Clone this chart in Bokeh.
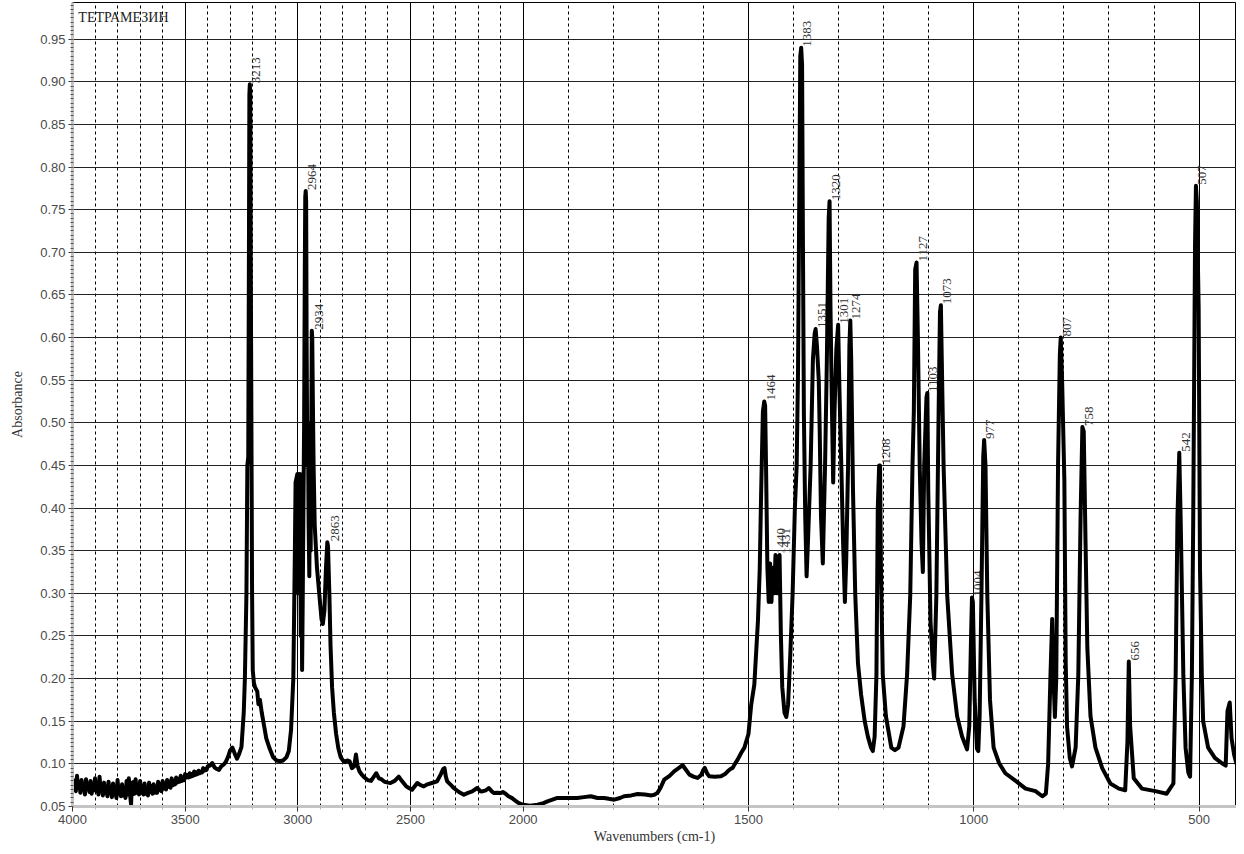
import numpy as np
from bokeh.plotting import figure
from bokeh.models import (ColumnDataSource, Range1d, FixedTicker, SingleIntervalTicker,
                          NumeralTickFormatter, CustomJSTransform, Label)
from bokeh.transform import transform
from bokeh.core.properties import value
from bokeh.embed import file_html
from bokeh.resources import INLINE

# ---------------- data ----------------
# noisy baseline 4000-3400 cm-1
wn_baseline = [
    4000, 3995, 3990, 3985, 3980, 3975, 3970, 3965, 3960, 3955, 3950, 3945, 3940, 3935, 3930,
    3925, 3920, 3915, 3910, 3905, 3900, 3895, 3890, 3885, 3880, 3875, 3870, 3865, 3860, 3855,
    3850, 3845, 3840, 3835, 3830, 3825, 3820, 3815, 3810, 3805, 3800, 3795, 3790, 3785, 3780,
    3775, 3770, 3765, 3760, 3755, 3750, 3745, 3740, 3737, 3733, 3728, 3724, 3720, 3715, 3710,
    3705, 3700, 3695, 3690, 3685, 3680, 3675, 3670, 3665, 3660, 3655, 3650, 3645, 3640, 3635,
    3630, 3625, 3620, 3615, 3610, 3605, 3600, 3595, 3590, 3585, 3580, 3575, 3570, 3565, 3560,
    3555, 3550, 3545, 3540, 3535, 3530, 3525, 3520, 3515, 3510, 3505, 3500, 3495, 3490, 3485,
    3480, 3475, 3470, 3465, 3460, 3455, 3450, 3445, 3440, 3435, 3430, 3425, 3420, 3415, 3410,
    3405, 3400,
]
ab_baseline = [
    .083, .070, .080, .068, .086, .072, .079, .066, .081, .070, .077, .064, .082, .071, .076,
    .067, .080, .065, .074, .069, .083, .068, .075, .064, .085, .069, .073, .063, .078, .066,
    .072, .062, .079, .066, .071, .061, .077, .064, .070, .060, .081, .065, .071, .062, .076,
    .063, .069, .060, .080, .064, .083, .066, .052, .078, .064, .079, .065, .082, .066, .074,
    .064, .080, .066, .073, .064, .077, .065, .071, .063, .078, .067, .074, .065, .076, .066,
    .072, .066, .079, .069, .076, .068, .080, .071, .077, .070, .081, .073, .079, .072, .083,
    .075, .080, .076, .084, .078, .082, .079, .086, .080, .084, .081, .088, .084, .087, .084,
    .089, .085, .088, .086, .091, .087, .090, .088, .092, .089, .091, .090, .095, .092, .094,
    .093, .097,
]

# 3400-2000 cm-1 (OH / CH stretching region)
wn_high = [
    3390, 3380, 3370, 3360, 3350, 3340, 3330, 3320, 3310, 3300, 3290, 3280, 3270, 3260, 3250,
    3240, 3235, 3228, 3224, 3220, 3217, 3215, 3213, 3211, 3209, 3206, 3203, 3200, 3195, 3190,
    3180, 3175, 3168, 3160, 3150, 3140, 3125, 3110, 3095, 3080, 3065, 3050, 3040, 3030, 3020,
    3013, 3010, 3006, 3002, 2999, 2996, 2993, 2990, 2987, 2984, 2981, 2978, 2975, 2972, 2969,
    2967, 2965, 2963, 2961, 2958, 2955, 2952, 2949, 2946, 2943, 2940, 2938, 2936, 2933, 2930,
    2925, 2915, 2905, 2895, 2889, 2882, 2875, 2869, 2866, 2860, 2855, 2848, 2840, 2830, 2820,
    2810, 2800, 2790, 2780, 2770, 2760, 2750, 2742, 2735, 2726, 2715, 2704, 2690, 2675, 2665,
    2652, 2640, 2630, 2615, 2600, 2589, 2570, 2552, 2537, 2520, 2507, 2493, 2470, 2455, 2441,
    2425, 2405, 2382, 2365, 2355, 2349, 2343, 2337, 2320, 2308, 2285, 2263, 2245, 2226, 2204,
    2190, 2182, 2165, 2152, 2140, 2130, 2115, 2101, 2090, 2078, 2065, 2049, 2035, 2019,
]
ab_high = [
    .098, .101, .096, .094, .093, .097, .099, .102, .108, .116, .119, .112, .106, .112, .120,
    .160, .200, .300, .450, .460, .700, .885, .897, .885, .700, .500, .300, .210, .195, .190,
    .185, .170, .175, .160, .145, .130, .118, .108, .104, .103, .104, .108, .115, .140, .200,
    .350, .430, .435, .440, .300, .440, .380, .440, .250, .350, .210, .300, .400, .500, .680,
    .765, .772, .760, .600, .450, .500, .380, .320, .450, .350, .500, .608, .600, .520, .450,
    .380, .330, .300, .270, .264, .280, .330, .360, .355, .300, .240, .190, .160, .135, .118,
    .108, .104, .102, .104, .103, .095, .097, .111, .098, .091, .087, .084, .081, .080, .084,
    .089, .083, .082, .079, .078, .0776, .080, .085, .0795, .074, .0717, .0697, .0776, .075, .0736,
    .076, .0776, .0795, .088, .094, .095, .085, .0795, .075, .0717, .067, .0638, .066, .0677, .0717,
    .068, .0677, .069, .0717, .068, .0657, .066, .0657, .067, .065, .062, .0598, .057, .054,
]

# 2000-1500 cm-1
wn_mid = [
    2000, 1985, 1968, 1955, 1946, 1935, 1924, 1902, 1880, 1865, 1850, 1835, 1820, 1810, 1798,
    1785, 1776, 1760, 1746, 1730, 1715, 1709, 1702, 1695, 1687, 1675, 1665, 1655, 1646, 1640,
    1631, 1622, 1613, 1605, 1600, 1597, 1592, 1587, 1575, 1561, 1552, 1546, 1540, 1535, 1530,
    1524, 1516, 1509,
]
ab_mid = [
    .052, .051, .052, .054, .056, .058, .060, .060, .060, .061, .062, .060, .060, .059, .058,
    .060, .062, .063, .0646, .064, .063, .0638, .066, .072, .0815, .086, .0913, .095, .0984, .094,
    .0874, .085, .0835, .087, .093, .0953, .089, .0854, .085, .0854, .088, .0913, .094, .0953, .100,
    .105, .113, .119,
]

# fingerprint region 1500-417 cm-1
wn_low = [
    1500, 1494, 1487, 1479, 1475, 1472, 1468, 1465, 1463, 1461, 1458, 1455, 1452, 1449, 1446,
    1443, 1440, 1436, 1431, 1428, 1425, 1420, 1416, 1412, 1407, 1402, 1397, 1393, 1390, 1387,
    1385, 1383, 1381, 1379, 1377, 1374, 1371, 1368, 1362, 1357, 1353, 1351, 1348, 1344, 1342,
    1339, 1335, 1330, 1326, 1322, 1320, 1318, 1315, 1312, 1309, 1305, 1301, 1298, 1294, 1290,
    1286, 1283, 1279, 1276, 1274, 1272, 1268, 1263, 1257, 1250, 1242, 1235, 1228, 1224, 1220,
    1216, 1213, 1210, 1208, 1206, 1202, 1195, 1183, 1175, 1167, 1156, 1148, 1141, 1136, 1133,
    1130, 1127, 1124, 1120, 1116, 1113, 1110, 1105, 1103, 1101, 1096, 1091, 1088, 1083, 1078,
    1075, 1073, 1071, 1067, 1059, 1048, 1037, 1026, 1015, 1010, 1006, 1004, 1002, 998, 993,
    990, 987, 983, 979, 977, 974, 970, 964, 956, 944, 930, 907, 885, 863, 848,
    840, 835, 830, 826, 823, 820, 817, 813, 809, 807, 804, 799, 796, 793, 787,
    782, 774, 768, 763, 759, 756, 752, 748, 741, 730, 715, 697, 678, 664, 659,
    656, 653, 645, 627, 597, 572, 557, 552, 548, 544, 541, 535, 530, 524, 520,
    516, 513, 509, 507, 505, 501, 498, 494, 491, 480, 465, 450, 441, 437, 432,
    428, 422, 417,
]
ab_low = [
    .135, .169, .193, .267, .328, .414, .513, .525, .520, .450, .330, .290, .335, .290, .330,
    .300, .345, .300, .345, .250, .190, .160, .155, .170, .230, .300, .400, .450, .560, .780,
    .930, .940, .920, .700, .510, .390, .320, .360, .450, .574, .605, .610, .590, .550, .495,
    .390, .335, .450, .574, .740, .760, .635, .525, .430, .513, .586, .615, .537, .450, .360,
    .290, .340, .450, .590, .620, .574, .420, .298, .218, .181, .150, .132, .119, .115, .132,
    .205, .400, .450, .450, .330, .205, .156, .119, .116, .119, .144, .205, .298, .450, .513,
    .680, .688, .600, .450, .360, .325, .450, .530, .535, .420, .267, .218, .200, .298, .513,
    .630, .638, .574, .450, .298, .205, .156, .132, .117, .144, .250, .295, .290, .175, .118,
    .115, .156, .298, .460, .480, .450, .298, .175, .119, .101, .089, .080, .071, .068, .062,
    .065, .100, .200, .270, .200, .155, .200, .450, .580, .600, .550, .433, .218, .144, .107,
    .097, .119, .205, .390, .495, .490, .360, .236, .156, .119, .095, .077, .071, .069, .126,
    .220, .144, .083, .071, .068, .065, .077, .205, .390, .465, .390, .205, .119, .090, .085,
    .205, .390, .710, .778, .760, .635, .328, .205, .150, .119, .107, .101, .098, .162, .172,
    .130, .110, .100,
]

peak_wavenumber = [3213, 2964, 2934, 2863, 2987, 1464, 1440, 1431, 1383, 1351, 1320, 1301,
                   1274, 1208, 1127, 1103, 1073, 1004, 977, 807, 758, 656, 542, 507]
peak_absorbance = [.897, .772, .608, .360, .440, .525, .345, .345, .940, .610, .760, .615,
                   .620, .450, .688, .535, .638, .295, .480, .600, .495, .220, .465, .778]
peak_text = ["3213", "2964", "2934", "2863", "2987", "1464", "1440", "1431", "1383", "1351",
             "1320", "1301", "1274", "1208", "1127", "1103", "1073", "1004", "977", "807",
             "758", "656", "542", "507"]

x_major_wavenumbers = [4000, 3500, 3000, 2500, 2000, 1500, 1000, 500]
x_tick_labels = ["4000", "3500", "3000", "2500", "2000", "1500", "1000", "500"]
x_start_wavenumber = 4000
x_end_wavenumber = 417
y_start, y_end = 0.05, 0.993
chart_title = "ТЕТРАМЕЗИН"

wavenumber = wn_baseline + wn_high + wn_mid + wn_low
absorbance = ab_baseline + ab_high + ab_mid + ab_low
assert len(wavenumber) == len(absorbance)


# OMNIC-style axis: wavenumbers below 2000 cm-1 drawn at double scale
def axis_pos(w):
    return w if w >= 2000 else 2 * w - 2000


wn_transform = CustomJSTransform(
    func="return x >= 2000 ? x : 2 * x - 2000;",
    v_func="""
        const out = new Float64Array(xs.length);
        for (let i = 0; i < xs.length; i++) {
            const x = xs[i];
            out[i] = x >= 2000 ? x : 2 * x - 2000;
        }
        return out;
    """,
)

spec = ColumnDataSource(data=dict(wn=wavenumber, ab=absorbance))
peaks = ColumnDataSource(data=dict(wn=peak_wavenumber, ab=peak_absorbance, txt=peak_text))

p = figure(
    width=1236, height=846,
    x_range=Range1d(axis_pos(x_start_wavenumber), axis_pos(x_end_wavenumber)),
    y_range=Range1d(y_start, y_end),
    output_backend="svg", toolbar_location=None,
    min_border_left=72, min_border_right=0, min_border_top=2, min_border_bottom=40,
    background_fill_color="white", border_fill_color="white",
)
p.outline_line_color = "black"
p.outline_line_width = 1

# ---- ticks ----
major_pos = [axis_pos(w) for w in x_major_wavenumbers]
minor_pos = [axis_pos(w) for w in range(3900, 450, -100) if w not in x_major_wavenumbers]
xticker = FixedTicker(ticks=major_pos, minor_ticks=minor_pos)
p.xaxis.ticker = xticker
p.xaxis.major_label_overrides = {pos: lab for pos, lab in zip(major_pos, x_tick_labels)}
p.xgrid.ticker = xticker

yticker = SingleIntervalTicker(interval=0.05, num_minor_ticks=10)
p.yaxis.ticker = yticker
p.ygrid.ticker = yticker
p.yaxis.formatter = NumeralTickFormatter(format="0.00")

# ---- grid ----
p.xgrid.grid_line_color = "black"
p.xgrid.grid_line_width = 1
p.xgrid.minor_grid_line_color = "black"
p.xgrid.minor_grid_line_dash = "3 3"
p.xgrid.minor_grid_line_width = 1
p.ygrid.grid_line_color = "#222222"
p.ygrid.grid_line_width = 1

# ---- axes ----
for ax in (p.xaxis[0], p.yaxis[0]):
    ax.axis_line_color = "#c4c4c4"
    ax.axis_line_width = 3
    ax.major_label_text_font = "Liberation Sans"
    ax.major_label_text_font_size = "13px"
    ax.major_label_text_color = "#4a4a4a"
    ax.axis_label_text_font = "Liberation Serif"
    ax.axis_label_text_font_size = "14px"
    ax.axis_label_text_font_style = "normal"
    ax.axis_label_text_color = "#333333"
    ax.major_tick_line_color = "#333333"

p.xaxis.axis_label = "Wavenumbers (cm-1)"
p.xaxis.major_tick_out = 5
p.xaxis.major_tick_in = 0
p.xaxis.minor_tick_out = 3
p.xaxis.minor_tick_in = 0
p.xaxis.minor_tick_line_color = "#bbbbbb"
p.xaxis.major_label_standoff = 3
p.xaxis.axis_label_standoff = 2

p.yaxis.axis_label = "Absorbance"
p.yaxis.major_tick_out = 4
p.yaxis.major_tick_in = 0
p.yaxis.minor_tick_out = 2
p.yaxis.minor_tick_in = 1
p.yaxis.minor_tick_line_color = "#555555"
p.yaxis.major_label_standoff = 3
p.yaxis.axis_label_standoff = 12

# ---- peak labels (drawn under the spectrum) ----
p.text(x=transform("wn", wn_transform), y="ab", text="txt", source=peaks,
       angle=np.pi / 2, text_align="left", text_baseline="top",
       x_offset=2, y_offset=-1,
       text_font=value("Liberation Serif"), text_font_size="13px", text_color="#333333")

# ---- spectrum ----
p.line(x=transform("wn", wn_transform), y="ab", source=spec,
       line_color="black", line_width=4, line_join="round")

# ---- sample name ----
p.add_layout(Label(x=3974, y=0.9755, text=chart_title, text_baseline="middle",
                   text_font="Liberation Serif", text_font_size="14px", text_color="#222222"))

open("out.html", "w").write(file_html(p, INLINE))
